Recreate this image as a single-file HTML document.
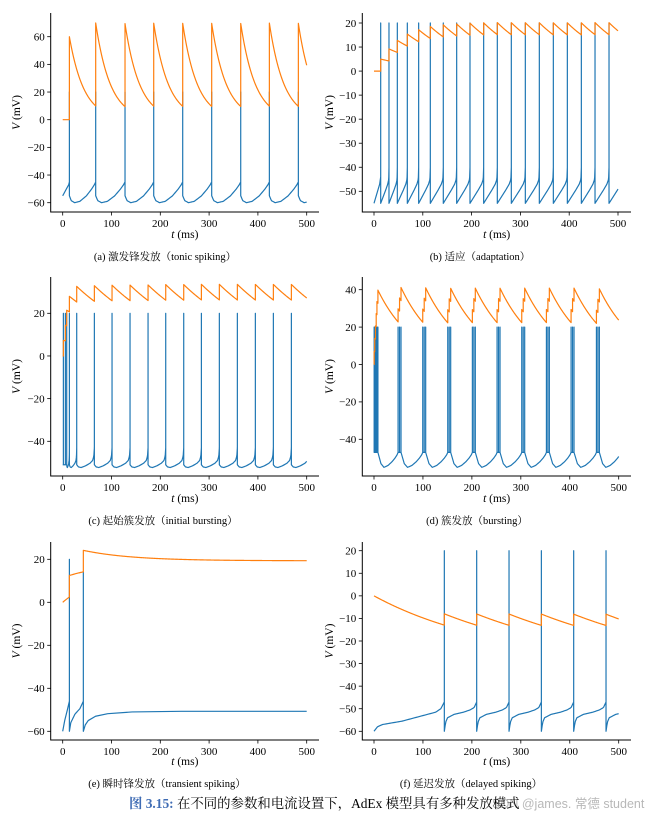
<!DOCTYPE html>
<html><head><meta charset="utf-8">
<style>
html,body{margin:0;padding:0;background:#fff;}
body{width:660px;height:818px;overflow:hidden;position:relative;}
svg{position:absolute;left:0;top:0;}
text{font-family:"Liberation Serif","Noto Serif CJK SC",serif;}
</style></head>
<body>
<svg id="fig" width="660" height="818" viewBox="0 0 660 818"></svg>
<script>
// ---- data (ms / mV) ----
const xTicks = [0, 100, 200, 300, 400, 500];
const yTicksA = [-60, -40, -20, 0, 20, 40, 60];
const yTicksB = [-50, -40, -30, -20, -10, 0, 10, 20];
const yTicksC = [-40, -20, 0, 20];
const yTicksD = [-40, -20, 0, 20, 40];
const yTicksE = [-60, -40, -20, 0, 20];
const yTicksF = [-60, -50, -40, -30, -20, -10, 0, 10, 20];

const spikesA = [13.7, 67.6, 127.7, 186.5, 245.9, 305.3, 364.8, 423.5, 482.9];
const spikesB = [13.7, 30.7, 47.8, 68.3, 91.5, 115.4, 142, 169.4, 196.7, 224.7, 252.7, 281.4, 310.1, 338.8, 367.5, 396.2, 424.9, 452.9, 481.6];
const spikesC = [1.4, 5.5, 8.2, 13.7, 28.7, 64.9, 101.1, 138, 174.9, 211.1, 248, 284.2, 321, 357.9, 394.8, 431.7, 468.6];
const spikesD = [0.3, 1.5, 3, 4.5, 6, 8, 49.2, 52.2, 55.2, 99.6, 102.6, 105.6, 150.7, 153.7, 156.7, 201, 204, 207, 251.5, 254.5, 257.5, 301.9, 304.9, 307.9, 352.3, 355.3, 358.3, 402.7, 405.7, 408.7, 454.5, 457.5, 460.5];
const spikesE = [13.7, 42.3];
const spikesF = [143.7, 209.8, 275.9, 342, 408, 474.1];

const peaksE = [20, 14];

// adaptation current w: jump, relaxation time, resting value
const wJump = {a: 60, b: 5, c: 7.3, d: 7, e: 10, f: 5};
const wTau = {a: 30, b: 100, c: 150, d: 74, e: 100, f: 254};
const wRest = {a: 0, b: 0, c: 0, d: 0, e: 19.3, f: -30};

// membrane potential profiles between spikes [fraction of interval, mV]
const profFirstA = [[0,-55],[0.5,-50.5],[0.9,-47],[1,-45]];
const profA = [[0,-55],[0.07,-58.5],[0.2,-60],[0.4,-59],[0.65,-55],[0.85,-50],[0.95,-47],[1,-45]];
const profFirstB = [[0,-55],[0.85,-47],[1,-44]];
const profB = [[0,-55],[0.6,-49.5],[0.85,-47],[0.97,-45],[1,-40]];
const profFirstC = [[0,-51],[1,-51]];
const profC = [[0,-51],[0.1,-52],[0.25,-52.3],[0.5,-51.5],[0.75,-50.3],[0.9,-49],[0.97,-47],[1,-43]];
const profFirstD = [[0,-47],[1,-47]];
const profD = [[0,-47],[0.05,-49],[0.15,-53],[0.3,-55],[0.5,-54],[0.7,-52],[0.85,-50],[0.95,-48.3],[1,-47]];
const profFirstE = [[0,-60],[0.3,-55],[0.7,-50],[1,-46]];
const profE = [[0,-60],[0.1,-56],[0.4,-52],[0.75,-49.5],[1,-46]];
const tailE = [[0,-60],[4,-57],[10,-55],[25,-53],[50,-51.8],[100,-51],[200,-50.7],[460,-50.7]];
const profFirstF = [[0,-60],[0.05,-58],[0.12,-57],[0.4,-55.5],[0.7,-53],[0.88,-51.5],[0.95,-50],[1,-47]];
const profF = [[0,-60],[0.04,-56],[0.1,-54],[0.3,-52.5],[0.6,-51.5],[0.8,-50.5],[0.92,-49.5],[1,-47]];

// ---- layout ----
const panels = [
 {id:'a', spikes:spikesA, yTicks:yTicksA, first:profFirstA, prof:profA, lastL:59.4, x0:62.7, x500:306.7, v1:60, p1:36.7, v2:-60, p2:202.7, left:50.7, right:319, top:13, bottom:212, ylx:20, cap:'(a) 激发锋发放（tonic spiking）', capX:165, capY:260, xlY:238},
 {id:'b', spikes:spikesB, yTicks:yTicksB, first:profFirstB, prof:profB, lastL:28.7, x0:374, x500:618, v1:20, p1:23, v2:-50, p2:191.3, left:362.3, right:631, top:13, bottom:212, ylx:333, cap:'(b) 适应（adaptation）', capX:480, capY:260, xlY:238},
 {id:'c', spikes:spikesC, yTicks:yTicksC, first:profFirstC, prof:profC, lastL:36.9, x0:62.7, x500:306.7, v1:20, p1:313.3, v2:-40, p2:441.3, left:50.7, right:319, top:277, bottom:476, ylx:20, cap:'(c) 起始簇发放（initial bursting）', capX:163, capY:524, xlY:502},
 {id:'d', spikes:spikesD, yTicks:yTicksD, first:profFirstD, prof:profD, lastL:44, x0:374, x500:618.7, v1:40, p1:289.7, v2:-40, p2:439.3, left:362.3, right:631, top:277, bottom:476, ylx:333, cap:'(d) 簇发放（bursting）', capX:477, capY:524, xlY:502},
 {id:'e', spikes:spikesE, yTicks:yTicksE, first:profFirstE, prof:profE, tail:tailE, peaks:peaksE, lastL:30, x0:62.7, x500:306.7, v1:20, p1:559.3, v2:-60, p2:731.3, left:50.7, right:319, top:542, bottom:740, ylx:20, cap:'(e) 瞬时锋发放（transient spiking）', capX:167, capY:787, xlY:765},
 {id:'f', spikes:spikesF, yTicks:yTicksF, first:profFirstF, prof:profF, lastL:66, x0:374, x500:618.7, v1:20, p1:550.7, v2:-60, p2:731.3, left:362.3, right:631, top:542, bottom:740, ylx:333, cap:'(f) 延迟发放（delayed spiking）', capX:471, capY:787, xlY:765}
];

const NS = 'http://www.w3.org/2000/svg';
const svg = document.getElementById('fig');
function mk(tag, attrs, parent){
  const e = document.createElementNS(NS, tag);
  for (const k in attrs) e.setAttribute(k, attrs[k]);
  (parent||svg).appendChild(e);
  return e;
}
function interp(prof, u){
  if (u <= prof[0][0]) return prof[0][1];
  for (let i=1;i<prof.length;i++){
    if (u <= prof[i][0]){
      const [u0,v0]=prof[i-1],[u1,v1]=prof[i];
      return v0+(v1-v0)*(u-u0)/(u1-u0);
    }
  }
  return prof[prof.length-1][1];
}

panels.forEach(p => {
  const g = mk('g', {});
  
  
  const X = t => p.x0 + (t/500)*(p.x500-p.x0);
  const Y = v => p.p1 + (v-p.v1)*(p.p2-p.p1)/(p.v2-p.v1);

  const sp = p.spikes;
  const starts = [0].concat(sp), ends = sp.concat([500]);
  let pts = [];
  for (let i=0;i<starts.length;i++){
    const s = starts[i], e = ends[i];
    const isLast = i === starts.length-1;
    if (isLast && p.tail){
      for (const [dt,v] of p.tail){ if (s+dt>500) break; pts.push([s+dt,v]); }
      pts.push([500, p.tail[p.tail.length-1][1]]);
      continue;
    }
    const prof = i===0 ? p.first : p.prof;
    const L = isLast ? p.lastL : (e-s);
    if (L < 5.2 && i>0){
      pts.push([s, prof[0][1]]); pts.push([e, prof[0][1]]);
    } else {
      for (let k=0;k<=40;k++){
        const t = s + L*k/40;
        if (t > e){ pts.push([e, interp(prof,(e-s)/L)]); break; }
        pts.push([t, interp(prof,k/40)]);
      }
    }
    if (!isLast){
      const pk = p.peaks ? p.peaks[i] : 20;
      pts.push([e, pk]);
    }
  }
  const dV = pts.map((q,i)=>(i?'L':'M')+X(q[0]).toFixed(2)+','+Y(q[1]).toFixed(2)).join('');
  const vPath = mk('path', {d:dV, fill:'none', stroke:'#1f77b4', 'stroke-width':1.2, 'stroke-linejoin':'round'}, g);
  
  

  const id = p.id;
  let w = 0, wpts = [[0,0]];
  for (let i=0;i<starts.length;i++){
    const s = starts[i], e = ends[i];
    const w0 = w;
    const n = Math.max(1, Math.ceil(e-s));
    for (let k=1;k<=n;k++){
      const t = s + (e-s)*k/n;
      w = wRest[id] + (w0-wRest[id])*Math.exp(-(t-s)/wTau[id]);
      wpts.push([t,w]);
    }
    if (i < starts.length-1){ w += wJump[id]; wpts.push([e,w]); }
  }
  const dW = wpts.map((q,i)=>(i?'L':'M')+X(q[0]).toFixed(2)+','+Y(q[1]).toFixed(2)).join('');
  const wPath = mk('path', {d:dW, fill:'none', stroke:'#ff7f0e', 'stroke-width':1.2, 'stroke-linejoin':'round'}, g);
  
  

  const ax = mk('path', {d:`M${p.left},${p.top}V${p.bottom}H${p.right}`, fill:'none', stroke:'#000', 'stroke-width':1}, g);
  
  

  xTicks.forEach(t => {
    mk('line', {x1:X(t), x2:X(t), y1:p.bottom, y2:p.bottom+3.5, stroke:'#000', 'stroke-width':0.8}, g);
    const tx = mk('text', {x:X(t), y:p.bottom+15, 'font-size':11, 'text-anchor':'middle', fill:'#000'}, g);
    tx.textContent = t;
    
    
  });
  p.yTicks.forEach(v => {
    mk('line', {x1:p.left-3.5, x2:p.left, y1:Y(v), y2:Y(v), stroke:'#000', 'stroke-width':0.8}, g);
    const ty = mk('text', {x:p.left-6, y:Y(v)+3.8, 'font-size':11, 'text-anchor':'end', fill:'#000'}, g);
    ty.textContent = v < 0 ? '\u2212' + (-v) : String(v);
    
    
  });
  const xl = mk('text', {x:(p.left+p.right)/2, y:p.xlY, 'font-size':11.5, 'text-anchor':'middle', fill:'#000'}, g);
  xl.innerHTML = '<tspan font-style="italic">t</tspan> (ms)';
  
  
  const cy = (p.top+p.bottom)/2;
  const yl = mk('text', {x:p.ylx, y:cy, 'font-size':11.5, 'text-anchor':'middle', fill:'#000', transform:`rotate(-90 ${p.ylx} ${cy})`}, g);
  yl.innerHTML = '<tspan font-style="italic">V</tspan> (mV)';
  
  
  const cp = mk('text', {x:p.capX, y:p.capY, 'font-size':10.5, 'text-anchor':'middle', fill:'#000'}, g);
  cp.textContent = p.cap;
  
  
});

const wm = mk('text', {x:492, y:808, 'font-size':12.5, fill:'#b8b8b8', style:'font-family:"Liberation Sans","Noto Sans CJK SC",sans-serif'});
wm.textContent = 'SDN @james. 常德 student';


const fc = mk('text', {x:129, y:808, 'font-size':13.4, fill:'#000'});
fc.innerHTML = '<tspan fill="#3f6cb4" font-weight="bold">图 3.15:</tspan> 在不同的参数和电流设置下，AdEx 模型具有多种发放模式';


</script>
</body></html>
